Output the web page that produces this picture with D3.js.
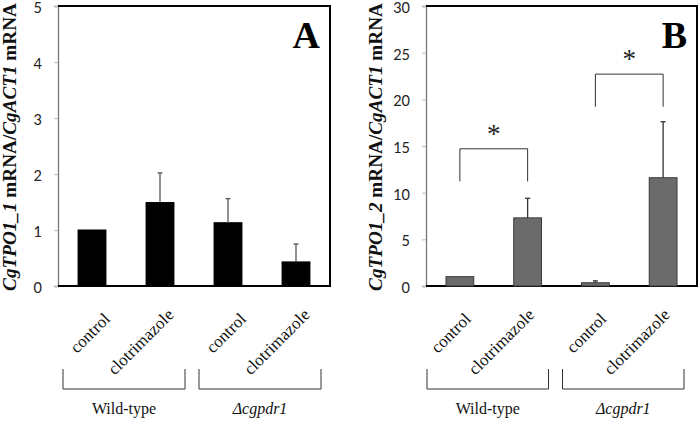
<!DOCTYPE html>
<html><head><meta charset="utf-8">
<script src="https://cdn.jsdelivr.net/npm/d3@7"></script>
<style>
html,body{margin:0;padding:0;background:#fff;}
svg{display:block;}
</style></head>
<body>
<script>
// ---------- data ----------
const categories = ["control", "clotrimazole", "control", "clotrimazole"];
const groups = ["Wild-type", "Δcgpdr1"];
const valuesA = [1.0, 1.49, 1.13, 0.43];
const errorsA = [0, 0.53, 0.43, 0.32];
const valuesB = [1.0, 7.3, 0.35, 11.6];
const errorsB = [0, 2.1, 0.2, 6.0];
const ticksA = [0, 1, 2, 3, 4, 5];
const ticksB = [0, 5, 10, 15, 20, 25, 30];
const sigB = [ {from: 0, to: 1, top: 14.7, leg: 11.2, label: "*"},
               {from: 2, to: 3, top: 22.7, leg: 19.2, label: "*"} ];

const W = 699, H = 423;
const svg = d3.select("body").append("svg").attr("width", W).attr("height", H);

const serif = "'Liberation Serif','Times New Roman',serif";
const sans = "Lato,'Open Sans',sans-serif";

function panel(cfg) {
  const g = svg.append("g");
  const x = d3.scaleBand().domain(d3.range(categories.length)).range([cfg.x0, cfg.x1]).paddingInner(0.59).paddingOuter(0.295);
  const y = d3.scaleLinear().domain([0, cfg.max]).range([286, 6]);

  // y axis
  const ax = g.append("g").attr("transform", `translate(${cfg.x0},0)`)
    .call(d3.axisLeft(y).tickValues(cfg.ticks).tickFormat(d3.format("d")).tickSize(4).tickPadding(12));
  ax.select(".domain").attr("stroke", "#777").attr("stroke-width", 1.3);
  ax.selectAll(".tick line").attr("stroke", "#bbb");
  ax.selectAll(".tick text").attr("font-family", sans).attr("font-size", 14.5).attr("fill", "#222")
    .attr("dy", "0.45em");

  // frame (top, right, bottom)
  g.append("path")
    .attr("d", `M${cfg.x0},${y(cfg.max)}H${cfg.x1}V${y(0)}H${cfg.x0}`)
    .attr("fill", "none").attr("stroke", "#000").attr("stroke-width", 2);

  // bars
  g.selectAll("rect.bar").data(cfg.values).join("rect")
    .attr("class", "bar")
    .attr("x", (d, i) => x(i)).attr("width", x.bandwidth())
    .attr("y", d => y(d)).attr("height", d => y(0) - y(d))
    .attr("fill", cfg.fill).attr("stroke", cfg.stroke).attr("stroke-width", 1);

  // error bars (upper only)
  cfg.values.forEach((v, i) => {
    const e = cfg.errors[i];
    if (!e) return;
    const cx = x(i) + x.bandwidth() / 2;
    g.append("line").attr("x1", cx).attr("x2", cx).attr("y1", y(v)).attr("y2", y(v + e))
      .attr("stroke", cfg.errColor).attr("stroke-width", 1.3);
    g.append("line").attr("x1", cx - 2.5).attr("x2", cx + 2.5).attr("y1", y(v + e)).attr("y2", y(v + e))
      .attr("stroke", cfg.errColor).attr("stroke-width", 1.3);
  });

  // significance brackets
  (cfg.sig || []).forEach(s => {
    const xa = x(s.from) + x.bandwidth() / 2, xb = x(s.to) + x.bandwidth() / 2;
    g.append("path").attr("d", `M${xa},${y(s.leg)}V${y(s.top)}H${xb}V${y(s.leg)}`)
      .attr("fill", "none").attr("stroke", "#333").attr("stroke-width", 1);
    g.append("text").attr("x", (xa + xb) / 2).attr("y", y(s.top) - 6)
      .attr("text-anchor", "middle").attr("font-family", serif).attr("font-size", 27)
      .attr("fill", "#222").text(s.label);
  });

  // panel letter
  g.append("text").attr("x", cfg.x1 - 10).attr("y", 48).attr("text-anchor", "end")
    .attr("font-family", serif).attr("font-weight", "bold").attr("font-size", 38).text(cfg.letter);

  // y label
  const yl = g.append("text")
    .attr("transform", `translate(${cfg.labelX},${(y(0) + y(cfg.max)) / 2 + 1}) rotate(-90)`)
    .attr("text-anchor", "middle").attr("font-family", serif).attr("font-weight", "bold")
    .attr("font-size", 19).attr("fill", "#111");
  yl.append("tspan").attr("font-style", "italic").text(cfg.gene);
  yl.append("tspan").text(" mRNA/");
  yl.append("tspan").attr("font-style", "italic").text("CgACT1");
  yl.append("tspan").text(" mRNA");
  const len = yl.node().getComputedTextLength();
  if (len > 0) yl.attr("font-size", 19 * 288 / len);

  // category labels
  categories.forEach((c, i) => {
    const cx = x(i) + x.bandwidth() / 2;
    g.append("text").attr("transform", `translate(${cx + cfg.labDx},320) rotate(-45)`)
      .attr("dy", i % 2 === 1 ? -6 : 0)
      .attr("text-anchor", "end").attr("font-family", serif).attr("font-size", 17)
      .attr("fill", "#111").text(c);
  });

  // group brackets
  groups.forEach((gname, gi) => {
    const a = x(gi * 2) - x.step() * x.paddingOuter() + cfg.brOff;
    const b = x(gi * 2 + 1) + x.bandwidth() + x.step() * x.paddingOuter() + cfg.brOff - cfg.brShrink;
    g.append("path").attr("d", `M${a},369V389H${b}V369`).attr("fill", "none")
      .attr("stroke", "#333").attr("stroke-width", 1);
    g.append("text").attr("x", (a + b) / 2).attr("y", 414).attr("text-anchor", "middle")
      .attr("font-family", serif).attr("font-size", 16).attr("fill", "#111")
      .attr("font-style", gi === 1 ? "italic" : "normal").text(gname);
  });
}

panel({x0: 58, x1: 330, max: 5, ticks: ticksA, values: valuesA, errors: errorsA,
       fill: "#000", stroke: "#000", errColor: "#555", letter: "A", gene: "CgTPO1_1",
       labelX: 16, brOff: 5, brShrink: 14, labDx: 19});
panel({x0: 426, x1: 697, max: 30, ticks: ticksB, values: valuesB, errors: errorsB,
       fill: "#6b6b6b", stroke: "#3a3a3a", errColor: "#333", letter: "B", gene: "CgTPO1_2",
       labelX: 382, brOff: 1, brShrink: 14, labDx: 12, sig: sigB});
</script>
</body></html>
